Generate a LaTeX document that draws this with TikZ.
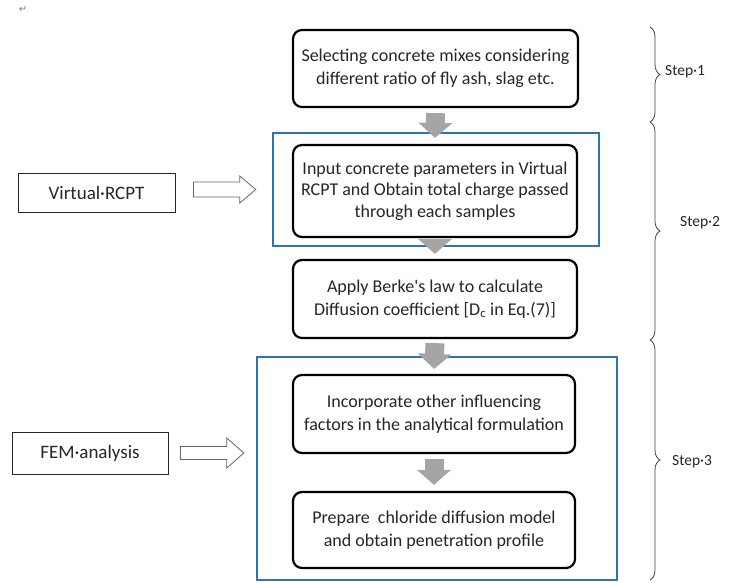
\documentclass[tikz,border=0pt]{standalone}
\usepackage{fontspec}
\setmainfont{Carlito}
\newfontfamily\dejavu{DejaVu Sans}
\usetikzlibrary{arrows.meta,calc,decorations.pathreplacing}
\definecolor{bluebox}{HTML}{2E75B6}
\definecolor{grayarrow}{HTML}{A5A5A5}
\begin{document}
\begin{tikzpicture}[x=1pt,y=-1pt,
  flowbox/.style={draw=black,line width=2.2pt,rounded corners=9pt,fill=white,
    align=center,inner sep=0pt,font=\fontsize{18}{22.5}\selectfont,text=black!85},
  sidebox/.style={draw=black!85,line width=0.8pt,inner sep=0pt,
    font=\fontsize{19}{22}\selectfont,text=black!85},
  bluerect/.style={draw=bluebox,line width=2.4pt,inner sep=0pt},
  downarrow/.style={line width=19pt,draw=grayarrow,
    -{Triangle[width=33pt,length=15pt]}},
  hollow/.style={draw=black!60,line width=0.8pt,fill=white,line join=miter},
  stepbrace/.style={decorate,decoration={brace,amplitude=10pt},draw=black!75,line width=0.8pt},
  steplabel/.style={anchor=west,inner sep=0pt,font=\fontsize{15.5}{18}\selectfont,text=black!85}
]
\useasboundingbox (0,0) rectangle (731,582);
\node[inner sep=0pt,text=black!50,font=\dejavu\fontsize{10}{10}\selectfont] (ret) at (23,9) {↵};

% blue frames
\node[bluerect,minimum width=326pt,minimum height=113pt] (blue1) at (436,189.5) {};
\node[bluerect,minimum width=360pt,minimum height=223pt] (blue2) at (437,468.5) {};

% main boxes
\node[flowbox,minimum width=285pt,minimum height=77pt] (b1) at (435.5,68.5)
  {Selecting concrete mixes considering\\different ratio of fly ash, slag etc.};
\node[flowbox,minimum width=284pt,minimum height=92pt,font=\fontsize{18}{21.5}\selectfont] (b2) at (435,191)
  {Input concrete parameters in Virtual\\RCPT and Obtain total charge passed\\through each samples};
\node[flowbox,minimum width=284pt,minimum height=78pt] (b3) at (435,299)
  {Apply Berke\textquotesingle s law to calculate\\Diffusion coefficient [D\textsubscript{c} in Eq.(7)]};
\node[flowbox,minimum width=282pt,minimum height=78pt] (b4) at (434,414)
  {Incorporate other influencing\\factors in the analytical formulation};
\node[flowbox,minimum width=282pt,minimum height=76pt] (b5) at (434,530)
  {Prepare\ \ chloride diffusion model\\and obtain penetration profile};

% gray arrows
\draw[downarrow] ($(b1.south)+(0,5)$) -- ($(b2.north)+(0,-6)$);
\draw[downarrow] ($(b2.south)+(0,2)$) -- ($(b3.north)+(0,-5)$);
\draw[downarrow] ($(b3.south)+(0,4)$) -- ($(b4.north)+(0,-5)$);
\draw[downarrow] ($(b4.south)+(0,5)$) -- ($(b5.north)+(0,-6)$);

% side boxes
\node[sidebox,minimum width=157pt,minimum height=39pt] (vr) at (96.5,192.5) {Virtual·RCPT};
\node[sidebox,minimum width=156pt,minimum height=42pt] (fem) at (90,453) {FEM·analysis};

% hollow arrows
\coordinate (va) at ($(vr.east)+(18,-3)$);
\coordinate (vb) at ($(blue1.west |- va)+(-16,0)$);
\draw[hollow] ($(va)+(0,-7.5)$) -- ($(vb)+(-16,-7.5)$) -- ($(vb)+(-16,-13.5)$) -- (vb)
  -- ($(vb)+(-16,13.5)$) -- ($(vb)+(-16,7.5)$) -- ($(va)+(0,7.5)$) -- cycle;
\coordinate (fa) at ($(fem.east)+(12,0)$);
\coordinate (fb) at ($(blue2.west |- fa)+(-12,0)$);
\draw[hollow] ($(fa)+(0,-6.5)$) -- ($(fb)+(-17,-6.5)$) -- ($(fb)+(-17,-15)$) -- (fb)
  -- ($(fb)+(-17,15)$) -- ($(fb)+(-17,6.5)$) -- ($(fa)+(0,6.5)$) -- cycle;

% braces
\coordinate (s0) at (650,27);
\coordinate (s1) at (650,122);
\coordinate (s2) at (650,340);
\coordinate (s3) at (650,580);
\draw[stepbrace] (s0) -- (s1);
\draw[stepbrace] (s1) -- (s2);
\draw[stepbrace] (s2) -- (s3);
\node[steplabel] (st1) at (665,72) {Step·1};
\node[steplabel] (st2) at (680,223) {Step·2};
\node[steplabel] (st3) at (672,462) {Step·3};
\end{tikzpicture}
\end{document}
